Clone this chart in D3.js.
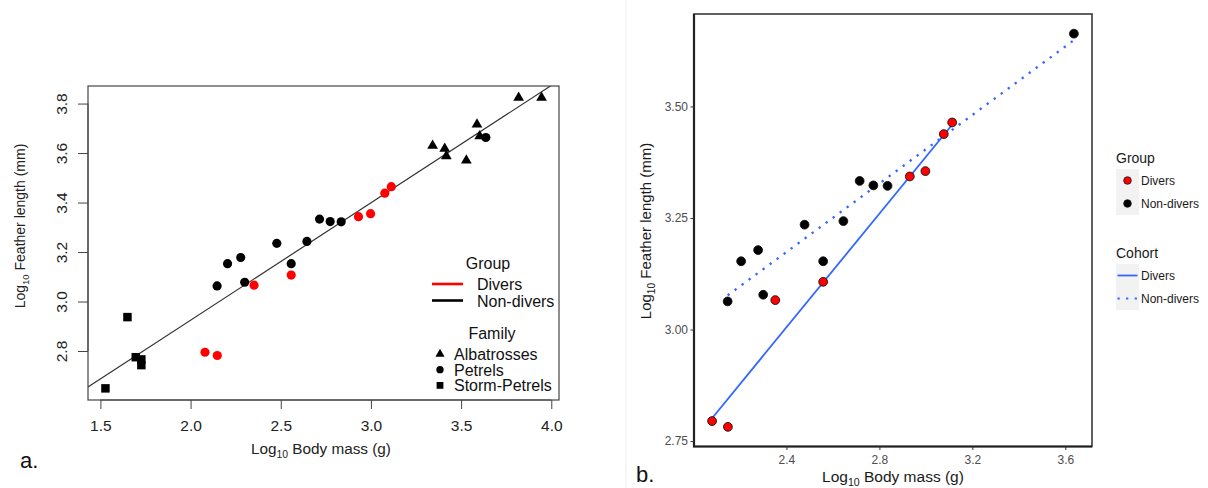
<!DOCTYPE html>
<html>
<head>
<meta charset="utf-8">
<script src="https://cdn.jsdelivr.net/npm/d3@7"></script>
<style>
  body { margin: 0; background: #fff; }
  svg { display: block; }
  text { font-family: "Liberation Sans", Arial, sans-serif; }
</style>
</head>
<body>
<svg id="chart" width="1208" height="488"></svg>
<script>
// Log10 body mass (g) and log10 feather length (mm) for each species
const diverMass      = [2.080, 2.148, 2.352, 2.558, 2.931, 2.998, 3.077, 3.113];
const diverFeather   = [2.795, 2.782, 3.066, 3.107, 3.343, 3.355, 3.438, 3.464];
const petrelMass     = [2.147, 2.205, 2.278, 2.300, 2.478, 2.558, 2.645, 2.715, 2.774, 2.835, 3.637];
const petrelFeather  = [3.063, 3.153, 3.178, 3.078, 3.235, 3.153, 3.243, 3.333, 3.323, 3.322, 3.663];
const albatrossMass    = [3.342, 3.409, 3.418, 3.529, 3.588, 3.603, 3.819, 3.946];
const albatrossFeather = [3.630, 3.618, 3.588, 3.570, 3.716, 3.668, 3.824, 3.824];
const stormPetrelMass    = [1.528, 1.650, 1.696, 1.727, 1.727];
const stormPetrelFeather = [2.649, 2.937, 2.775, 2.766, 2.743];

const leftXTicks  = [1.5, 2.0, 2.5, 3.0, 3.5, 4.0];
const leftYTicks  = [2.8, 3.0, 3.2, 3.4, 3.6, 3.8];
const rightXTicks = [2.4, 2.8, 3.2, 3.6];
const rightYTicks = [2.75, 3.00, 3.25, 3.50];

const groupLabels  = ["Divers", "Non-divers"];
const familyLabels = ["Albatrosses", "Petrels", "Storm-Petrels"];

const zip = (xs, ys) => xs.map((x, i) => ({ x, y: ys[i] }));
const divers     = zip(diverMass, diverFeather);
const petrels    = zip(petrelMass, petrelFeather);
const albatross  = zip(albatrossMass, albatrossFeather);
const storm      = zip(stormPetrelMass, stormPetrelFeather);

// ordinary least squares fit
function fit(pts) {
  const mx = d3.mean(pts, d => d.x), my = d3.mean(pts, d => d.y);
  const sxy = d3.sum(pts, d => (d.x - mx) * (d.y - my));
  const sxx = d3.sum(pts, d => (d.x - mx) ** 2);
  const b = sxy / sxx;
  return { a: my - b * mx, b };
}
function padded(values, f) {
  const [lo, hi] = d3.extent(values);
  const p = (hi - lo) * f;
  return [lo - p, hi + p];
}

const svg = d3.select("#chart");

// faint frame edge between the two figures
svg.append("line").attr("x1", 626).attr("x2", 626).attr("y1", 0).attr("y2", 488)
  .attr("stroke", "#efefef").attr("stroke-width", 1);

function subLabel(g, main, tail, size) {
  const t = g.append("text").attr("font-size", size);
  t.append("tspan").text(main);
  t.append("tspan").attr("font-size", size * 0.68).attr("dy", size * 0.28).text("10");
  t.append("tspan").attr("dy", -size * 0.28).text(tail);
  return t;
}

/* ---------------- Panel a: all families (base-graphics style) ---------------- */
{
  const all = [...divers, ...petrels, ...albatross, ...storm];
  const box = { l: 88, r: 559, t: 86, b: 400 };
  const x = d3.scaleLinear().domain(padded(all.map(d => d.x), 0.04)).range([box.l, box.r]);
  const y = d3.scaleLinear().domain(padded(all.map(d => d.y), 0.04)).range([box.b, box.t]);
  const g = svg.append("g");

  g.append("clipPath").attr("id", "clipA").append("rect")
    .attr("x", box.l).attr("y", box.t).attr("width", box.r - box.l).attr("height", box.b - box.t);

  // overall regression line
  const m = fit(all);
  const [x0, x1] = x.domain();
  g.append("line").attr("clip-path", "url(#clipA)")
    .attr("x1", x(x0)).attr("y1", y(m.a + m.b * x0))
    .attr("x2", x(x1)).attr("y2", y(m.a + m.b * x1))
    .attr("stroke", "#333").attr("stroke-width", 1.2);

  const sym = (type, size) => d3.symbol().type(type).size(size)();
  const drawPts = (pts, type, size, color) => g.append("g").selectAll("path").data(pts).join("path")
    .attr("d", sym(type, size)).attr("fill", color)
    .attr("transform", d => `translate(${x(d.x)},${y(d.y)})`);
  drawPts(storm, d3.symbolSquare, 72, "#000");
  drawPts(albatross, d3.symbolTriangle, 50, "#000");
  drawPts(petrels, d3.symbolCircle, 66, "#000");
  drawPts(divers, d3.symbolCircle, 66, "#ff0000");

  g.append("rect").attr("x", box.l).attr("y", box.t)
    .attr("width", box.r - box.l).attr("height", box.b - box.t)
    .attr("fill", "none").attr("stroke", "#444").attr("stroke-width", 1.2);

  // x axis
  const xa = g.append("g").attr("transform", `translate(0,${box.b})`)
    .call(d3.axisBottom(x).tickValues(leftXTicks).tickSize(9).tickFormat(d3.format(".1f")));
  xa.select(".domain").attr("d", `M${x(leftXTicks[0])},0H${x(leftXTicks[leftXTicks.length - 1])}`)
    .attr("stroke", "#444");
  xa.selectAll(".tick line").attr("stroke", "#444");
  xa.selectAll(".tick text").attr("font-size", 15.5).attr("fill", "#222").attr("y", 20).attr("dy", "0.71em");

  // y axis with rotated labels
  const ya = g.append("g").attr("transform", `translate(${box.l},0)`)
    .call(d3.axisLeft(y).tickValues(leftYTicks).tickSize(10).tickFormat(d3.format(".1f")));
  ya.select(".domain").attr("d", `M0,${y(leftYTicks[0])}V${y(leftYTicks[leftYTicks.length - 1])}`)
    .attr("stroke", "#444");
  ya.selectAll(".tick line").attr("stroke", "#444");
  ya.selectAll(".tick text").attr("font-size", 15.5).attr("fill", "#222")
    .attr("x", null).attr("dy", null)
    .attr("text-anchor", "middle")
    .attr("transform", "translate(-21,0) rotate(-90)");

  const xt = subLabel(g, "Log", " Body mass (g)", 15.3);
  xt.attr("x", 321).attr("y", 454).attr("text-anchor", "middle").attr("fill", "#222");
  const yt = subLabel(g, "Log", " Feather length (mm)", 14);
  yt.attr("text-anchor", "middle").attr("fill", "#222")
    .attr("transform", "translate(25,226) rotate(-90)");

  // legend
  const lg = g.append("g").attr("font-size", 16).attr("fill", "#111");
  lg.append("text").attr("x", 488).attr("y", 269).attr("text-anchor", "middle").text("Group");
  const groupColors = ["#ff0000", "#000"];
  groupLabels.forEach((lab, i) => {
    const cy = 284 + i * 16.5;
    lg.append("line").attr("x1", 432).attr("x2", 463).attr("y1", cy).attr("y2", cy)
      .attr("stroke", groupColors[i]).attr("stroke-width", 2.6);
    lg.append("text").attr("x", 477).attr("y", cy + 6).text(lab);
  });
  lg.append("text").attr("x", 492).attr("y", 339).attr("text-anchor", "middle").text("Family");
  const famTypes = [d3.symbolTriangle, d3.symbolCircle, d3.symbolSquare];
  const famSizes = [36, 42, 46];
  familyLabels.forEach((lab, i) => {
    const cy = 354 + i * 15.7;
    lg.append("path").attr("d", sym(famTypes[i], famSizes[i])).attr("fill", "#000")
      .attr("transform", `translate(440,${cy})`);
    lg.append("text").attr("x", 454).attr("y", cy + 6).text(lab);
  });

  g.append("text").attr("x", 20).attr("y", 468).attr("font-size", 22)
    .attr("font-family", "Lato, 'Open Sans', sans-serif").attr("fill", "#111").text("a.");
}

/* ---------------- Panel b: petrels only, group regressions ---------------- */
{
  const pts = [...divers, ...petrels];
  const box = { l: 694, r: 1092, t: 14, b: 446.5 };
  const x = d3.scaleLinear().domain(padded(pts.map(d => d.x), 0.05)).range([box.l, box.r]);
  const y = d3.scaleLinear().domain(padded(pts.map(d => d.y), 0.05)).range([box.b, box.t]);
  const g = svg.append("g");
  const blue = "#3366FF";

  g.append("rect").attr("x", box.l).attr("y", box.t)
    .attr("width", box.r - box.l).attr("height", box.b - box.t)
    .attr("fill", "#fff").attr("stroke", "#3a3a3a").attr("stroke-width", 1.6);
  g.append("path").attr("d", `M${box.l},${box.t}V${box.b}H${box.r}`)
    .attr("fill", "none").attr("stroke", "#222").attr("stroke-width", 2.2);

  // fitted lines over each group's own range
  const fitLine = (grp) => {
    const m = fit(grp);
    const [a, b] = d3.extent(grp, d => d.x);
    return [{ x: a, y: m.a + m.b * a }, { x: b, y: m.a + m.b * b }];
  };
  const line = d3.line().x(d => x(d.x)).y(d => y(d.y));
  g.append("path").attr("d", line(fitLine(divers))).attr("fill", "none")
    .attr("stroke", blue).attr("stroke-width", 1.8);
  g.append("path").attr("d", line(fitLine(petrels))).attr("fill", "none")
    .attr("stroke", blue).attr("stroke-width", 2.3).attr("stroke-dasharray", "2.3,6.4");

  const drawPts = (grp, fill) => g.append("g").selectAll("circle").data(grp).join("circle")
    .attr("cx", d => x(d.x)).attr("cy", d => y(d.y)).attr("r", 4.4)
    .attr("fill", fill).attr("stroke", "#111").attr("stroke-width", 0.9);
  drawPts(petrels, "#000");
  drawPts(divers, "#ff0000");

  const xa = g.append("g").attr("transform", `translate(0,${box.b})`)
    .call(d3.axisBottom(x).tickValues(rightXTicks).tickSize(3.5).tickFormat(d3.format(".1f")));
  xa.select(".domain").remove();
  xa.selectAll(".tick line").attr("stroke", "#333");
  xa.selectAll(".tick text").attr("font-size", 12).attr("fill", "#4d4d4d").attr("y", 9).attr("dy", "0.71em");

  const ya = g.append("g").attr("transform", `translate(${box.l},0)`)
    .call(d3.axisLeft(y).tickValues(rightYTicks).tickSize(3.5).tickFormat(d3.format(".2f")));
  ya.select(".domain").remove();
  ya.selectAll(".tick line").attr("stroke", "#333");
  ya.selectAll(".tick text").attr("font-size", 12).attr("fill", "#4d4d4d").attr("x", -6);

  const xt = subLabel(g, "Log", " Body mass (g)", 15.5);
  xt.attr("x", 893).attr("y", 482).attr("text-anchor", "middle").attr("fill", "#1a1a1a");
  const yt = subLabel(g, "Log", " Feather length (mm)", 15);
  yt.attr("text-anchor", "middle").attr("fill", "#1a1a1a")
    .attr("transform", "translate(651,231) rotate(-90)");

  // legends
  const lg = g.append("g").attr("fill", "#1a1a1a");
  lg.append("text").attr("x", 1116).attr("y", 163).attr("font-size", 14).text("Group");
  const fills = ["#ff0000", "#000"];
  groupLabels.forEach((lab, i) => {
    const top = 169 + i * 23;
    lg.append("rect").attr("x", 1116).attr("y", top).attr("width", 23).attr("height", 23).attr("fill", "#f2f2f2");
    lg.append("circle").attr("cx", 1127.5).attr("cy", top + 11.5).attr("r", 3.8)
      .attr("fill", fills[i]).attr("stroke", "#111").attr("stroke-width", 0.8);
    lg.append("text").attr("x", 1141).attr("y", top + 11.5).attr("dy", "0.36em")
      .attr("font-size", 12).text(lab);
  });
  lg.append("text").attr("x", 1116).attr("y", 258).attr("font-size", 14).text("Cohort");
  groupLabels.forEach((lab, i) => {
    const top = 264 + i * 23;
    lg.append("rect").attr("x", 1116).attr("y", top).attr("width", 23).attr("height", 23).attr("fill", "#f2f2f2");
    const ln = lg.append("line").attr("x1", 1117.5).attr("x2", 1137.5)
      .attr("y1", top + 11.5).attr("y2", top + 11.5).attr("stroke", blue);
    if (i === 0) ln.attr("stroke-width", 1.8);
    else ln.attr("stroke-width", 2.2).attr("stroke-dasharray", "2.2,6.4");
    lg.append("text").attr("x", 1141).attr("y", top + 11.5).attr("dy", "0.36em")
      .attr("font-size", 12).text(lab);
  });

  g.append("text").attr("x", 636).attr("y", 482).attr("font-size", 22)
    .attr("font-family", "Lato, 'Open Sans', sans-serif").attr("fill", "#111").text("b.");
}
</script>
</body>
</html>
